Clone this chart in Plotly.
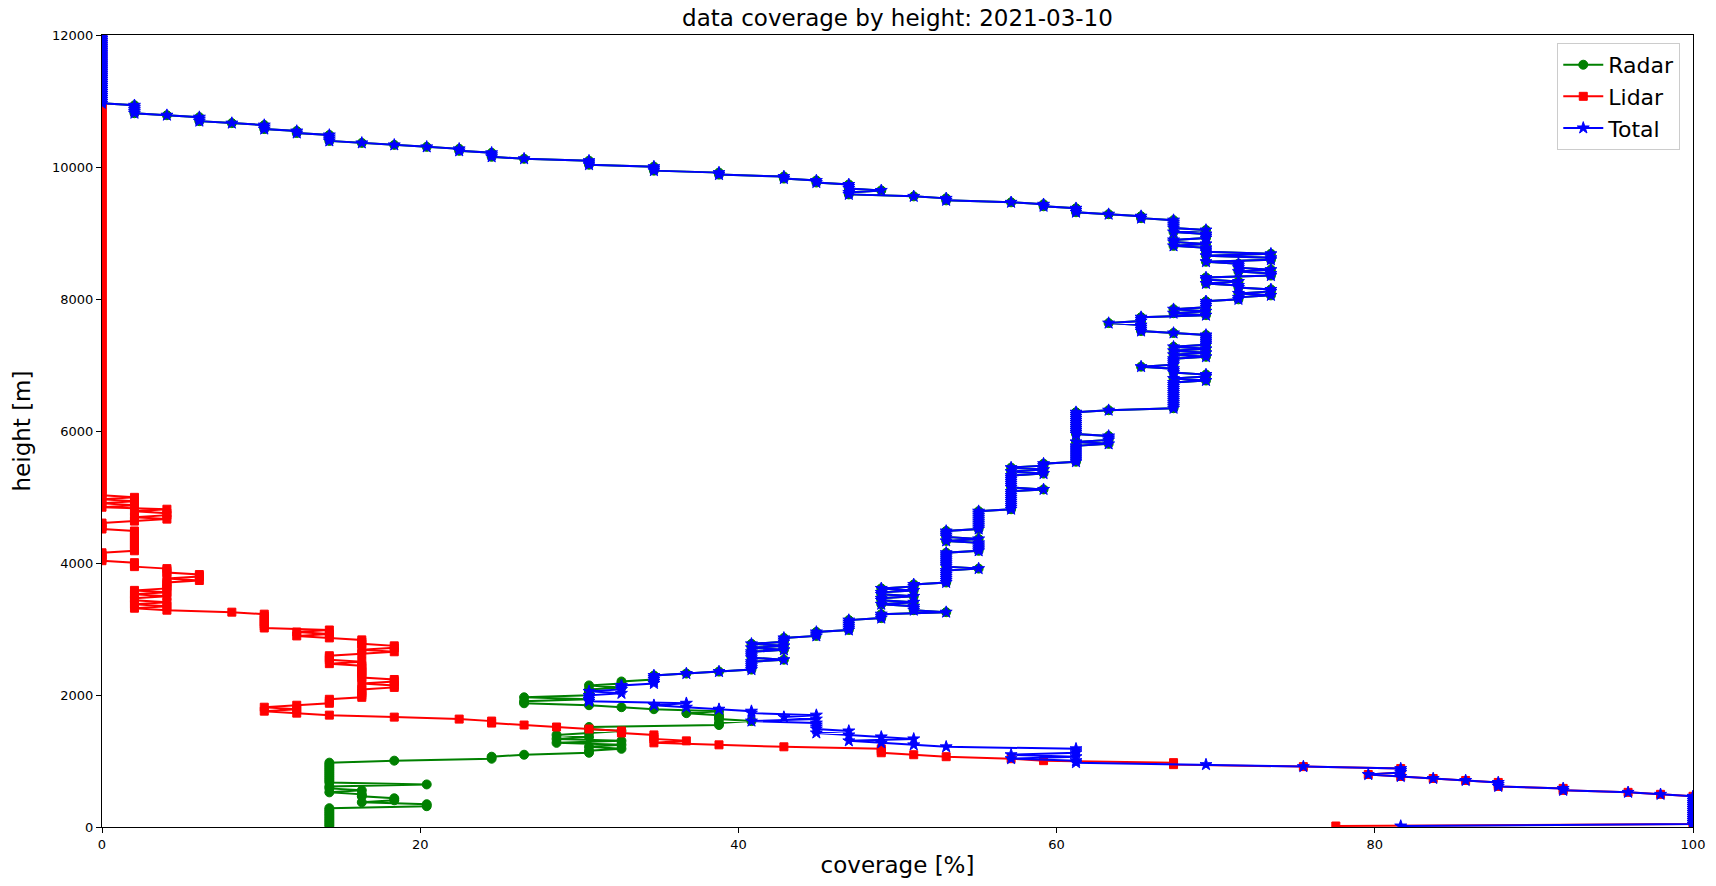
import plotly.graph_objects as go

# ---- data: coverage [%] per range gate, run-length encoded (value, number of gates) ----
first_gate_m = 15
gate_spacing_m = 30

# Radar, lowest part (below the part shared with Total)
radar_low_cov = [14.29, 20.41, 16.33, 18.37, 16.33, 14.29, 16.33, 14.29, 20.41, 14.29,
                 18.37, 24.49, 26.53, 30.61, 32.65, 30.61, 32.65, 28.57, 32.65, 28.57,
                 30.61, 28.57, 30.61, 32.65, 30.61, 38.78, 40.82, 38.78, 36.73, 38.78,
                 34.69, 32.65, 30.61, 26.53, 30.61, 26.53, 30.61, 32.65, 30.61, 32.65,
                 34.69]
radar_low_n = [10, 2, 1, 2, 2, 1, 1, 2, 1, 11,
               1, 2, 1, 2, 1, 1, 1, 1, 1, 1,
               1, 1, 1, 1, 2, 2, 1, 3, 1, 1,
               1, 1, 1, 2, 1, 1, 4, 1, 1, 2,
               3]

# Total, lowest part
total_low_cov = [81.63, 100.0, 97.96, 95.92, 91.84, 87.76, 85.71, 83.67, 81.63, 79.59,
                 81.63, 75.51, 69.39, 61.22, 57.14, 61.22, 57.14, 61.22, 53.06, 51.02,
                 48.98, 46.94, 51.02, 48.98, 46.94, 44.90, 46.94, 44.90, 40.82, 44.90,
                 42.86, 44.90, 40.82, 38.78, 36.73, 34.69, 36.73, 30.61, 32.65, 30.61,
                 32.65, 34.69]
total_low_n = [1, 15, 1, 1, 2, 3, 1, 1, 1, 1,
               3, 1, 1, 2, 1, 1, 1, 3, 1, 1,
               1, 1, 1, 1, 1, 1, 1, 4, 1, 1,
               1, 1, 2, 1, 1, 1, 1, 4, 1, 1,
               3, 5]

# Upper part, identical for Radar and Total
upper_cov = [36.73, 38.78, 40.82, 42.86, 40.82, 42.86, 40.82, 42.86, 40.82, 42.86,
             44.90, 46.94, 48.98, 53.06, 51.02, 48.98, 51.02, 48.98, 51.02, 48.98,
             51.02, 48.98, 51.02, 53.06, 55.10, 53.06, 55.10, 53.06, 55.10, 53.06,
             55.10, 57.14, 59.18, 57.14, 59.18, 57.14, 59.18, 57.14, 59.18, 61.22,
             63.27, 61.22, 63.27, 61.22, 63.27, 67.35, 69.39, 67.35, 69.39, 67.35,
             65.31, 67.35, 69.39, 67.35, 69.39, 67.35, 69.39, 67.35, 69.39, 67.35,
             65.31, 63.27, 65.31, 69.39, 67.35, 69.39, 67.35, 69.39, 71.43, 73.47,
             71.43, 73.47, 71.43, 69.39, 71.43, 69.39, 73.47, 71.43, 73.47, 71.43,
             69.39, 73.47, 69.39, 73.47, 69.39, 67.35, 69.39, 67.35, 69.39, 67.35,
             69.39, 67.35, 65.31, 63.27, 61.22, 59.18, 57.14, 53.06, 51.02, 46.94,
             48.98, 46.94, 44.90, 42.86, 38.78, 34.69, 30.61, 26.53, 24.49, 22.45,
             20.41, 18.37, 16.33, 14.29, 12.24, 10.20, 8.16, 6.12, 4.08, 2.04,
             0.0]
upper_n = [1, 1, 5, 1, 4, 1, 1, 1, 1, 3,
           3, 6, 3, 1, 3, 1, 1, 2, 1, 2,
           1, 1, 2, 7, 1, 8, 5, 1, 1, 4,
           10, 10, 1, 7, 1, 1, 1, 1, 2, 9,
           1, 1, 3, 12, 1, 14, 1, 1, 2, 3,
           1, 4, 1, 1, 1, 1, 1, 1, 6, 1,
           4, 1, 3, 1, 1, 1, 1, 4, 2, 1,
           1, 2, 2, 1, 1, 2, 2, 1, 1, 3,
           1, 2, 1, 1, 3, 1, 1, 2, 3, 1,
           1, 5, 2, 1, 3, 2, 1, 2, 1, 2,
           1, 3, 2, 2, 2, 3, 3, 1, 3, 2,
           1, 1, 1, 4, 2, 3, 1, 3, 1, 5,
           35]

# Lidar, full profile
lidar_cov = [77.55, 100.0, 97.96, 95.92, 91.84, 87.76, 85.71, 83.67, 81.63, 79.59,
             81.63, 75.51, 67.35, 59.18, 57.14, 53.06, 51.02, 48.98, 42.86, 38.78,
             34.69, 36.73, 34.69, 32.65, 30.61, 28.57, 26.53, 24.49, 22.45, 18.37,
             14.29, 12.24, 10.20, 12.24, 10.20, 12.24, 14.29, 16.33, 18.37, 16.33,
             18.37, 16.33, 14.29, 16.33, 14.29, 16.33, 18.37, 16.33, 18.37, 16.33,
             14.29, 12.24, 14.29, 12.24, 14.29, 10.20, 8.16, 4.08, 2.04, 4.08,
             2.04, 4.08, 2.04, 4.08, 2.04, 4.08, 2.04, 4.08, 6.12, 4.08,
             6.12, 4.08, 2.04, 0.0, 2.04, 0.0, 2.04, 4.08, 2.04, 4.08,
             2.04, 4.08, 0.0, 2.04, 0.0, 2.04, 0.0, 2.04, 0.0]
lidar_n = [1, 15, 1, 1, 2, 3, 1, 1, 1, 1,
           3, 1, 2, 1, 1, 1, 1, 3, 1, 1,
           1, 1, 3, 2, 1, 1, 1, 2, 1, 1,
           1, 1, 1, 1, 1, 1, 3, 5, 2, 1,
           2, 7, 1, 1, 3, 1, 1, 1, 2, 3,
           1, 1, 1, 1, 1, 8, 1, 1, 1, 1,
           1, 1, 2, 1, 1, 1, 1, 4, 1, 1,
           2, 3, 3, 5, 11, 4, 1, 1, 1, 2,
           1, 1, 1, 1, 1, 1, 1, 1, 233]

x_ticks = [0, 20, 40, 60, 80, 100]
y_ticks = [0, 2000, 4000, 6000, 8000, 10000, 12000]

series_names = ["Radar", "Lidar", "Total"]
series_colors = ["#008000", "#ff0000", "#0000ff"]
series_symbols = ["circle", "square", "star"]
series_sizes = [9, 8, 9]


def expand(cov_runs, n_runs):
    assert len(cov_runs) == len(n_runs)
    vals = []
    for v, n in zip(cov_runs, n_runs):
        vals.extend([v] * n)
    heights = [first_gate_m + gate_spacing_m * i for i in range(len(vals))]
    return vals, heights


radar_x, radar_y = expand(radar_low_cov + upper_cov, radar_low_n + upper_n)
lidar_x, lidar_y = expand(lidar_cov, lidar_n)
total_x, total_y = expand(total_low_cov + upper_cov, total_low_n + upper_n)

fig = go.Figure()
for (xs, ys), name, col, sym, sz in zip(
        [(radar_x, radar_y), (lidar_x, lidar_y), (total_x, total_y)],
        series_names, series_colors, series_symbols, series_sizes):
    fig.add_trace(go.Scatter(
        x=xs, y=ys, mode="lines+markers", name=name,
        line=dict(color=col, width=2),
        marker=dict(symbol=sym, size=sz, color=col, line=dict(color=col, width=1)),
    ))

axis_common = dict(
    showgrid=False, zeroline=False, showline=True, linecolor="black", linewidth=1,
    mirror=True, ticks="outside", ticklen=5, tickwidth=1, tickcolor="black",
    tickfont=dict(size=13, color="black"),
)
fig.update_xaxes(range=[0, 100], tickvals=x_ticks, ticktext=[str(v) for v in x_ticks],
                 title=dict(text="coverage [%]", font=dict(size=23, color="black"), standoff=6),
                 **axis_common)
fig.update_yaxes(range=[0, 12000], tickvals=y_ticks, ticktext=[str(v) for v in y_ticks],
                 title=dict(text="height [m]", font=dict(size=23, color="black"), standoff=14),
                 **axis_common)

fig.update_layout(
    width=1716, height=886,
    margin=dict(l=102, r=23, t=35, b=59),
    plot_bgcolor="white", paper_bgcolor="white",
    font=dict(family="DejaVu Sans", color="black"),
    title=dict(text="data coverage by height: 2021-03-10", font=dict(size=23, color="black"),
               x=0.5, xref="paper", xanchor="center",
               y=1 - 18 / 886, yref="container", yanchor="middle"),
    legend=dict(x=0.992, y=0.99, xanchor="right", yanchor="top",
                bgcolor="white", bordercolor="#cccccc", borderwidth=1,
                font=dict(size=22, color="black"), tracegroupgap=6,
                itemwidth=40),
    showlegend=True,
)

fig.write_html("out.html")
